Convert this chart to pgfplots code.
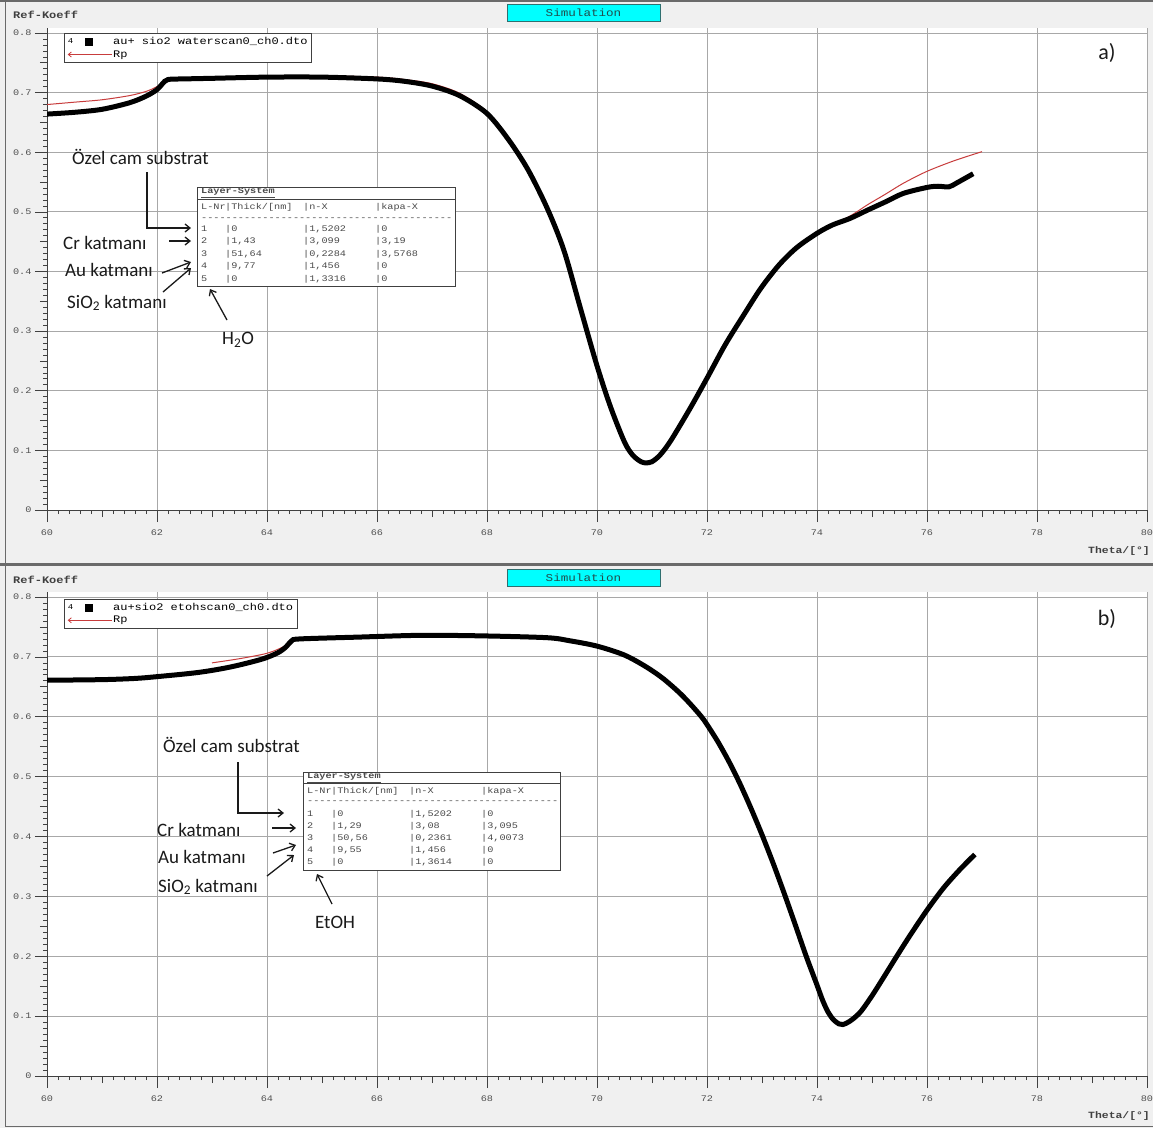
\documentclass[border=0pt]{standalone}
\usepackage{fontspec}
\setmainfont{Carlito}
\newfontfamily\mono[FakeStretch=1.2]{Liberation Mono}
\usepackage{pgfplots}
\pgfplotsset{compat=1.18}
\usetikzlibrary{arrows.meta}
\definecolor{bgc}{HTML}{F0F0F0}
\definecolor{axc}{HTML}{404040}
\definecolor{gridc}{HTML}{A8A8A8}
\definecolor{labc}{HTML}{505050}
\definecolor{framec}{HTML}{6A6A6A}
\definecolor{tabc}{HTML}{4A4A4A}
\definecolor{rpc}{HTML}{C83C3C}
\definecolor{simc}{HTML}{00FFFF}
\definecolor{simb}{HTML}{2F6F6F}
\definecolor{annc}{HTML}{1A1A1A}

\pgfplotsset{spr/.style={
  scale only axis, width=1100pt, xmin=60, xmax=80, ymin=0,
  axis x line*=bottom, axis y line*=left,
  axis line style={draw=axc, line width=0.8pt},
  axis background/.style={fill=white},
  xtick={60,62,...,80},
  ytick={0,0.1,0.2,0.3,0.4,0.5,0.6,0.7,0.8},
  minor x tick num=9, minor y tick num=9,
  extra x ticks={61,63,65,67,69,71,73,75,77,79}, extra x tick labels={},
  extra y ticks={0.05,0.15,0.25,0.35,0.45,0.55,0.65,0.75}, extra y tick labels={},
  extra tick style={grid=none, major tick length=7pt},
  grid=major, major grid style={draw=gridc, line width=0.9pt},
  tick align=outside, major tick length=12pt, minor tick length=4pt,
  tick style={draw=axc, line width=0.7pt},
  ticklabel style={font=\mono\fontsize{8.5}{9}\selectfont, text=labc},
  xticklabel style={yshift=-4pt},
  /pgf/number format/assume math mode=true,
  yticklabel style={/pgf/number format/fixed, /pgf/number format/precision=2},
  legend style={draw=axc, fill=white, font=\mono\fontsize{10}{11}\selectfont,
    inner xsep=3pt, inner ysep=3pt, nodes={inner sep=1pt}, row sep=2.5pt},
  legend cell align=left,
  clip=true,
}}

\newcommand{\trow}[6]{\node[anchor=west, inner sep=0pt, font=\mono\fontsize{8.5}{9}\selectfont, text=tabc] at (#1pt,-#2pt) {\makebox[24pt][l]{#3}\makebox[78pt][l]{#4}\makebox[72pt][l]{#5}#6};}

\begin{document}
\begin{tikzpicture}
\fill[bgc] (0pt,0pt) rectangle (1153pt,-1128pt);
% panel frames
\draw[framec, line width=1.5pt] (0pt,-0.75pt) -- (1153pt,-0.75pt);
\draw[framec, line width=1.5pt] (5.5pt,0pt) -- (5.5pt,-563pt);
\draw[framec, line width=3pt] (0pt,-564.5pt) -- (1153pt,-564.5pt);
\draw[framec, line width=1.5pt] (5.5pt,-566pt) -- (5.5pt,-1126.5pt) -- (1153pt,-1126.5pt);

% ---------------- panel a ----------------
\begin{axis}[spr, at={(47pt,-510pt)}, anchor=south west, height=482pt, ymax=0.8084,
  legend style={at={(axis cs:60.31,0.80)}, anchor=north west}]
\addlegendimage{legend image code/.code={
  \node[anchor=west, inner sep=0pt, font=\mono\fontsize{7.5}{7.5}\selectfont] at (0pt,0pt) {4};
  \fill[black] (17pt,-3.5pt) rectangle (24pt,3.5pt);
  \path (0pt,-4pt) (44pt,4pt);}}
\addlegendentry{au+ sio2 waterscan0\_ch0.dto}
\addlegendimage{legend image code/.code={
  \draw[rpc, line width=0.8pt] (1pt,0pt) -- (44pt,0pt);
  \draw[rpc, line width=0.8pt, -{Straight Barb[length=3pt,width=5pt]}] (6pt,0pt) -- (0pt,0pt);}}
\addlegendentry{Rp}
\addplot[rpc, line width=1pt, smooth, forget plot] coordinates {
(60.0,0.680) (60.5,0.684) (61.0,0.688) (61.5,0.695) (61.8,0.702) (62.0,0.710)
(62.15,0.719) (62.3,0.723) (63.0,0.725) (64.0,0.727) (65.0,0.728) (66.0,0.726)
(66.5,0.722) (67.0,0.715) (67.5,0.699) (68.0,0.668) (68.4,0.622) (68.75,0.571)
(69.1,0.505) (69.4,0.435) (69.7,0.338) (70.0,0.242) (70.25,0.172) (70.5,0.114)
(70.65,0.092) (70.8,0.081) (70.9,0.079) (71.0,0.081) (71.1,0.088) (71.2,0.098)
(71.36,0.119) (71.69,0.170) (72.0,0.221) (72.33,0.277) (72.66,0.326) (72.98,0.372)
(73.31,0.411) (73.63,0.440) (74.0,0.464) (74.28,0.479) (74.6,0.493) (74.92,0.512)
(75.25,0.530) (75.57,0.548) (76.0,0.568) (76.5,0.586) (77.0,0.601)};
\addplot[black, line width=5pt, smooth, forget plot] coordinates {
(60.0,0.664) (60.5,0.667) (61.0,0.672) (61.5,0.683) (61.8,0.694) (62.0,0.705)
(62.1,0.715) (62.2,0.722) (62.5,0.723) (63.0,0.724) (64.0,0.726) (65.0,0.726)
(66.0,0.723) (66.5,0.719) (67.0,0.711) (67.5,0.695) (68.0,0.665) (68.4,0.620)
(68.75,0.570) (69.1,0.505) (69.4,0.435) (69.7,0.338) (70.0,0.242) (70.25,0.172)
(70.5,0.114) (70.65,0.092) (70.8,0.081) (70.9,0.079) (71.0,0.081) (71.1,0.088)
(71.2,0.098) (71.36,0.119) (71.69,0.170) (72.0,0.221) (72.33,0.277) (72.66,0.326)
(72.98,0.372) (73.31,0.411) (73.63,0.440) (74.0,0.464) (74.28,0.478) (74.6,0.489)
(74.92,0.503) (75.25,0.517) (75.57,0.531) (76.0,0.541) (76.2,0.543) (76.4,0.542)
(76.55,0.549) (76.84,0.564)};
\end{axis}

% ---------------- panel b ----------------
\begin{axis}[spr, at={(47pt,-1076pt)}, anchor=south west, height=484pt, ymax=0.80835,
  legend style={at={(axis cs:60.31,0.797)}, anchor=north west}]
\addlegendimage{legend image code/.code={
  \node[anchor=west, inner sep=0pt, font=\mono\fontsize{7.5}{7.5}\selectfont] at (0pt,0pt) {4};
  \fill[black] (17pt,-3.5pt) rectangle (24pt,3.5pt);
  \path (0pt,-4pt) (44pt,4pt);}}
\addlegendentry{au+sio2 etohscan0\_ch0.dto}
\addlegendimage{legend image code/.code={
  \draw[rpc, line width=0.8pt] (1pt,0pt) -- (44pt,0pt);
  \draw[rpc, line width=0.8pt, -{Straight Barb[length=3pt,width=5pt]}] (6pt,0pt) -- (0pt,0pt);}}
\addlegendentry{Rp}
\addplot[rpc, line width=1pt, smooth, forget plot] coordinates {
(63.0,0.690) (63.5,0.697) (64.0,0.706) (64.3,0.717) (64.45,0.727) (64.6,0.730)
(65.65,0.734) (66.8,0.737) (67.96,0.736) (69.1,0.733) (69.5,0.728) (70.0,0.719)
(70.5,0.704) (70.9,0.684) (71.2,0.664) (71.5,0.640) (71.7,0.621) (71.9,0.600)
(72.0,0.587) (72.2,0.558) (72.4,0.525) (72.6,0.488) (72.8,0.447) (73.0,0.403)
(73.2,0.356) (73.4,0.306) (73.6,0.254) (73.8,0.201) (74.0,0.152) (74.1,0.127)
(74.2,0.107) (74.3,0.094) (74.4,0.087) (74.47,0.086) (74.55,0.089) (74.65,0.095)
(74.8,0.108) (75.0,0.134) (75.2,0.163) (75.45,0.200) (75.7,0.236) (76.0,0.277)
(76.3,0.314) (76.6,0.345) (76.87,0.370)};
\addplot[black, line width=5pt, smooth, forget plot] coordinates {
(60.0,0.661) (61.0,0.662) (61.6,0.664) (62.0,0.667) (62.75,0.674) (63.33,0.683)
(63.9,0.696) (64.2,0.707) (64.35,0.717) (64.45,0.727) (64.6,0.730) (65.65,0.733)
(66.8,0.736) (67.96,0.735) (69.1,0.732) (69.5,0.727) (70.0,0.718) (70.5,0.703)
(70.9,0.683) (71.2,0.664) (71.5,0.640) (71.7,0.621) (71.9,0.600) (72.0,0.587)
(72.2,0.558) (72.4,0.525) (72.6,0.488) (72.8,0.447) (73.0,0.403) (73.2,0.356)
(73.4,0.306) (73.6,0.254) (73.8,0.201) (74.0,0.152) (74.1,0.127) (74.2,0.107)
(74.3,0.094) (74.4,0.087) (74.47,0.086) (74.55,0.089) (74.65,0.095) (74.8,0.108)
(75.0,0.134) (75.2,0.163) (75.45,0.200) (75.7,0.236) (76.0,0.277) (76.3,0.314)
(76.6,0.345) (76.87,0.370)};
\end{axis}

% ---------------- texts and annotations ----------------
\tikzset{arr/.style={draw=annc, line width=1.3pt, -{Straight Barb[length=5pt,width=8pt]}},
         ann/.style={inner sep=0pt, font=\fontsize{19}{20}\selectfont, text=annc}}

% headers
\foreach \dy in {0,565}{
  \node[anchor=west, inner sep=0pt, font=\mono\bfseries\fontsize{10}{10}\selectfont, text=axc] at (13pt,-15pt-\dy pt) {Ref-Koeff};
  \node[draw=simb, fill=simc, minimum width=153pt, minimum height=17pt, inner sep=0pt,
        font=\mono\fontsize{10.5}{10.5}\selectfont, text=simb!70!black] at (583.5pt,-12.5pt-\dy pt) {Simulation};
  \node[anchor=east, inner sep=0pt, font=\mono\bfseries\fontsize{9.5}{10}\selectfont, text=axc] at (1150pt,-551pt-\dy pt) {Theta/[°]};
}
\node[inner sep=0pt, font=\fontsize{22}{24}\selectfont, text=annc] at (1107pt,-53pt) {a)};
\node[inner sep=0pt, font=\fontsize{22}{24}\selectfont, text=annc] at (1107pt,-619pt) {b)};

% table a
\draw[draw=axc, fill=white, line width=0.8pt] (197pt,-187pt) rectangle (455pt,-286pt);
\draw[axc, line width=0.8pt] (197pt,-199.5pt) -- (455pt,-199.5pt);
\node[anchor=west, inner sep=0pt, font=\mono\bfseries\fontsize{8.5}{9}\selectfont, text=tabc] at (201pt,-193pt) {\underline{Layer-System}};
\trow{201}{207.5}{L-Nr}{|Thick/[nm]}{|n-X}{|kapa-X}
\node[anchor=west, inner sep=0pt, font=\mono\fontsize{8.5}{9}\selectfont, text=tabc] at (201pt,-219pt) {-----------------------------------------};
\trow{201}{229}{1}{|0}{|1,5202}{|0}
\trow{201}{241.5}{2}{|1,43}{|3,099}{|3,19}
\trow{201}{254}{3}{|51,64}{|0,2284}{|3,5768}
\trow{201}{266.5}{4}{|9,77}{|1,456}{|0}
\trow{201}{279}{5}{|0}{|1,3316}{|0}

% table b
\draw[draw=axc, fill=white, line width=0.8pt] (303pt,-772pt) rectangle (560pt,-870pt);
\draw[axc, line width=0.8pt] (303pt,-783.5pt) -- (560pt,-783.5pt);
\node[anchor=west, inner sep=0pt, font=\mono\bfseries\fontsize{8.5}{9}\selectfont, text=tabc] at (307pt,-778pt) {\underline{Layer-System}};
\trow{307}{791.5}{L-Nr}{|Thick/[nm]}{|n-X}{|kapa-X}
\node[anchor=west, inner sep=0pt, font=\mono\fontsize{8.5}{9}\selectfont, text=tabc] at (307pt,-802pt) {-----------------------------------------};
\trow{307}{814}{1}{|0}{|1,5202}{|0}
\trow{307}{826}{2}{|1,29}{|3,08}{|3,095}
\trow{307}{838}{3}{|50,56}{|0,2361}{|4,0073}
\trow{307}{850}{4}{|9,55}{|1,456}{|0}
\trow{307}{862}{5}{|0}{|1,3614}{|0}

% annotations a
\node[ann, anchor=west] at (72pt,-157pt) {Özel cam substrat};
\draw[arr] (147pt,-172pt) -- (147pt,-228pt) -- (191pt,-228pt);
\node[ann, anchor=west] at (63pt,-243pt) {Cr katmanı};
\draw[arr] (169pt,-241pt) -- (191pt,-241pt);
\node[ann, anchor=west] at (65pt,-270pt) {Au katmanı};
\draw[arr] (162pt,-273pt) -- (191pt,-262pt);
\node[ann, anchor=west] at (67pt,-303pt) {SiO\textsubscript{2} katmanı};
\draw[arr] (163pt,-292pt) -- (191pt,-268pt);
\node[ann] at (238pt,-340pt) {H\textsubscript{2}O};
\draw[arr] (227pt,-320pt) -- (210pt,-289pt);

% annotations b
\node[ann, anchor=west] at (163pt,-745pt) {Özel cam substrat};
\draw[arr] (238pt,-762pt) -- (238pt,-813pt) -- (284pt,-813pt);
\node[ann, anchor=west] at (157pt,-830pt) {Cr katmanı};
\draw[arr] (272pt,-828pt) -- (296pt,-828pt);
\node[ann, anchor=west] at (158pt,-857pt) {Au katmanı};
\draw[arr] (273pt,-853pt) -- (296pt,-845pt);
\node[ann, anchor=west] at (158pt,-887pt) {SiO\textsubscript{2} katmanı};
\draw[arr] (267pt,-876pt) -- (294pt,-855pt);
\node[ann] at (335pt,-922pt) {EtOH};
\draw[arr] (332pt,-904pt) -- (317pt,-874pt);

\pgfresetboundingbox
\path[use as bounding box] (0pt,0pt) rectangle (1153pt,-1128pt);
\end{tikzpicture}
\end{document}
